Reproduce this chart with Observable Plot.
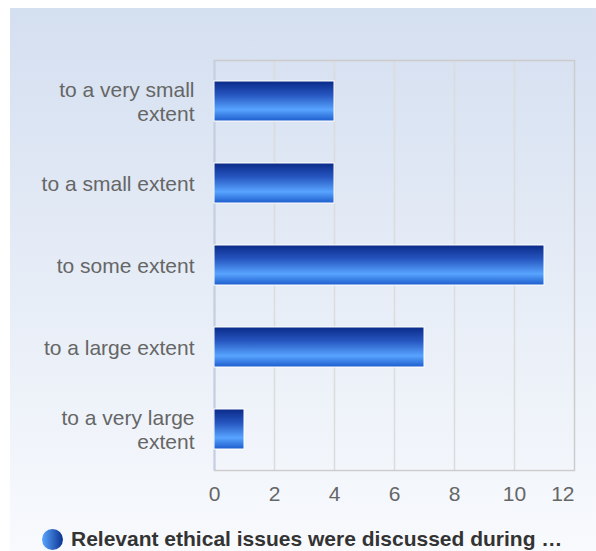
<!DOCTYPE html>
<html>
<head>
<meta charset="utf-8">
<script src="https://cdn.jsdelivr.net/npm/d3@7"></script>
<script src="https://cdn.jsdelivr.net/npm/@observablehq/plot@0.6"></script>
<style>
  body { margin: 0; background: #fff; }
  #wrap { position: relative; width: 596px; height: 551px; overflow: hidden; font-family: "Liberation Sans", Arial, sans-serif; }
  #bg { position: absolute; left: 10px; top: 8px; right: 0; bottom: 0; background: linear-gradient(#d4dff0, #f8fafd); z-index: 0; }
  #chart { position: relative; z-index: 1; }
  #legend { position: absolute; left: 42px; top: 528px; z-index: 1; height: 22px; display: flex; align-items: center; }
  #legend svg { display: block; }
  #legend span { font-weight: bold; font-size: 21px; line-height: 22px; color: #333; margin-left: 8px; white-space: nowrap; }
</style>
</head>
<body>
<div id="wrap">
  <div id="bg"></div>
  <div id="chart"></div>
  <div id="legend"></div>
</div>
<script>
const categories = ["to a very small extent", "to a small extent", "to some extent", "to a large extent", "to a very large extent"];
const labels = ["to a very small\nextent", "to a small extent", "to some extent", "to a large extent", "to a very large\nextent"];
const values = [4, 4, 11, 7, 1];
const xTicks = [0, 2, 4, 6, 8, 10, 12];
const seriesName = "Relevant ethical issues were discussed during …";

const data = categories.map((c, i) => ({category: c, label: labels[i], value: values[i]}));

const plot = Plot.plot({
  width: 596,
  height: 515,
  marginLeft: 214,
  marginRight: 22,
  marginTop: 60,
  marginBottom: 45,
  style: {background: "transparent", fontFamily: "'Liberation Sans', Arial, sans-serif"},
  x: {domain: [0, 12], axis: null},
  y: {domain: categories, axis: null, paddingInner: 0.512, paddingOuter: 0.256},
  marks: [
    Plot.gridX(xTicks.slice(1, -1), {stroke: "#dcdcdc", strokeOpacity: 1, strokeWidth: 1.5}),
    Plot.frame({stroke: "#cccccc", strokeWidth: 1.5}),
    Plot.ruleX([0], {stroke: "#c4cfe3", strokeWidth: 2}),
    Plot.barX(data, {x: "value", y: "category", fill: "url(#barGrad)", stroke: "#ffffff", strokeWidth: 1}),
    Plot.text(data, {y: "category", text: "label", frameAnchor: "left", dx: -20, textAnchor: "end", fontSize: 21, fill: "#666666", lineHeight: 1.14}),
    Plot.text(xTicks.slice(0, -1), {x: d => d, text: d => String(d), frameAnchor: "bottom", lineAnchor: "middle", dy: 24, textAnchor: "middle", fontSize: 21, fill: "#666666"}),
    Plot.text(xTicks.slice(-1), {x: d => d, text: d => String(d), frameAnchor: "bottom", lineAnchor: "middle", dy: 24, textAnchor: "end", fontSize: 21, fill: "#666666"})
  ]
});

const svg = d3.select(plot);
const defs = svg.insert("defs", ":first-child");
const g = defs.append("linearGradient").attr("id", "barGrad").attr("x1", 0).attr("y1", 0).attr("x2", 0).attr("y2", 1);
[["0%", "#0a2a88"], ["35%", "#2656c0"], ["72%", "#58a4ff"], ["100%", "#1c5ccc"]].forEach(([o, c]) => g.append("stop").attr("offset", o).attr("stop-color", c));

document.getElementById("chart").appendChild(plot);

const legend = d3.select("#legend");
const ls = legend.append("svg").attr("width", 21).attr("height", 21);
const lg = ls.append("defs").append("linearGradient").attr("id", "legGrad").attr("x1", 0).attr("y1", 0).attr("x2", 1).attr("y2", 0);
[["0%", "#5aa6ff"], ["100%", "#0a3290"]].forEach(([o, c]) => lg.append("stop").attr("offset", o).attr("stop-color", c));
ls.append("circle").attr("cx", 10.5).attr("cy", 10.5).attr("r", 10.5).attr("fill", "url(#legGrad)");
legend.append("span").text(seriesName);
</script>
</body>
</html>
